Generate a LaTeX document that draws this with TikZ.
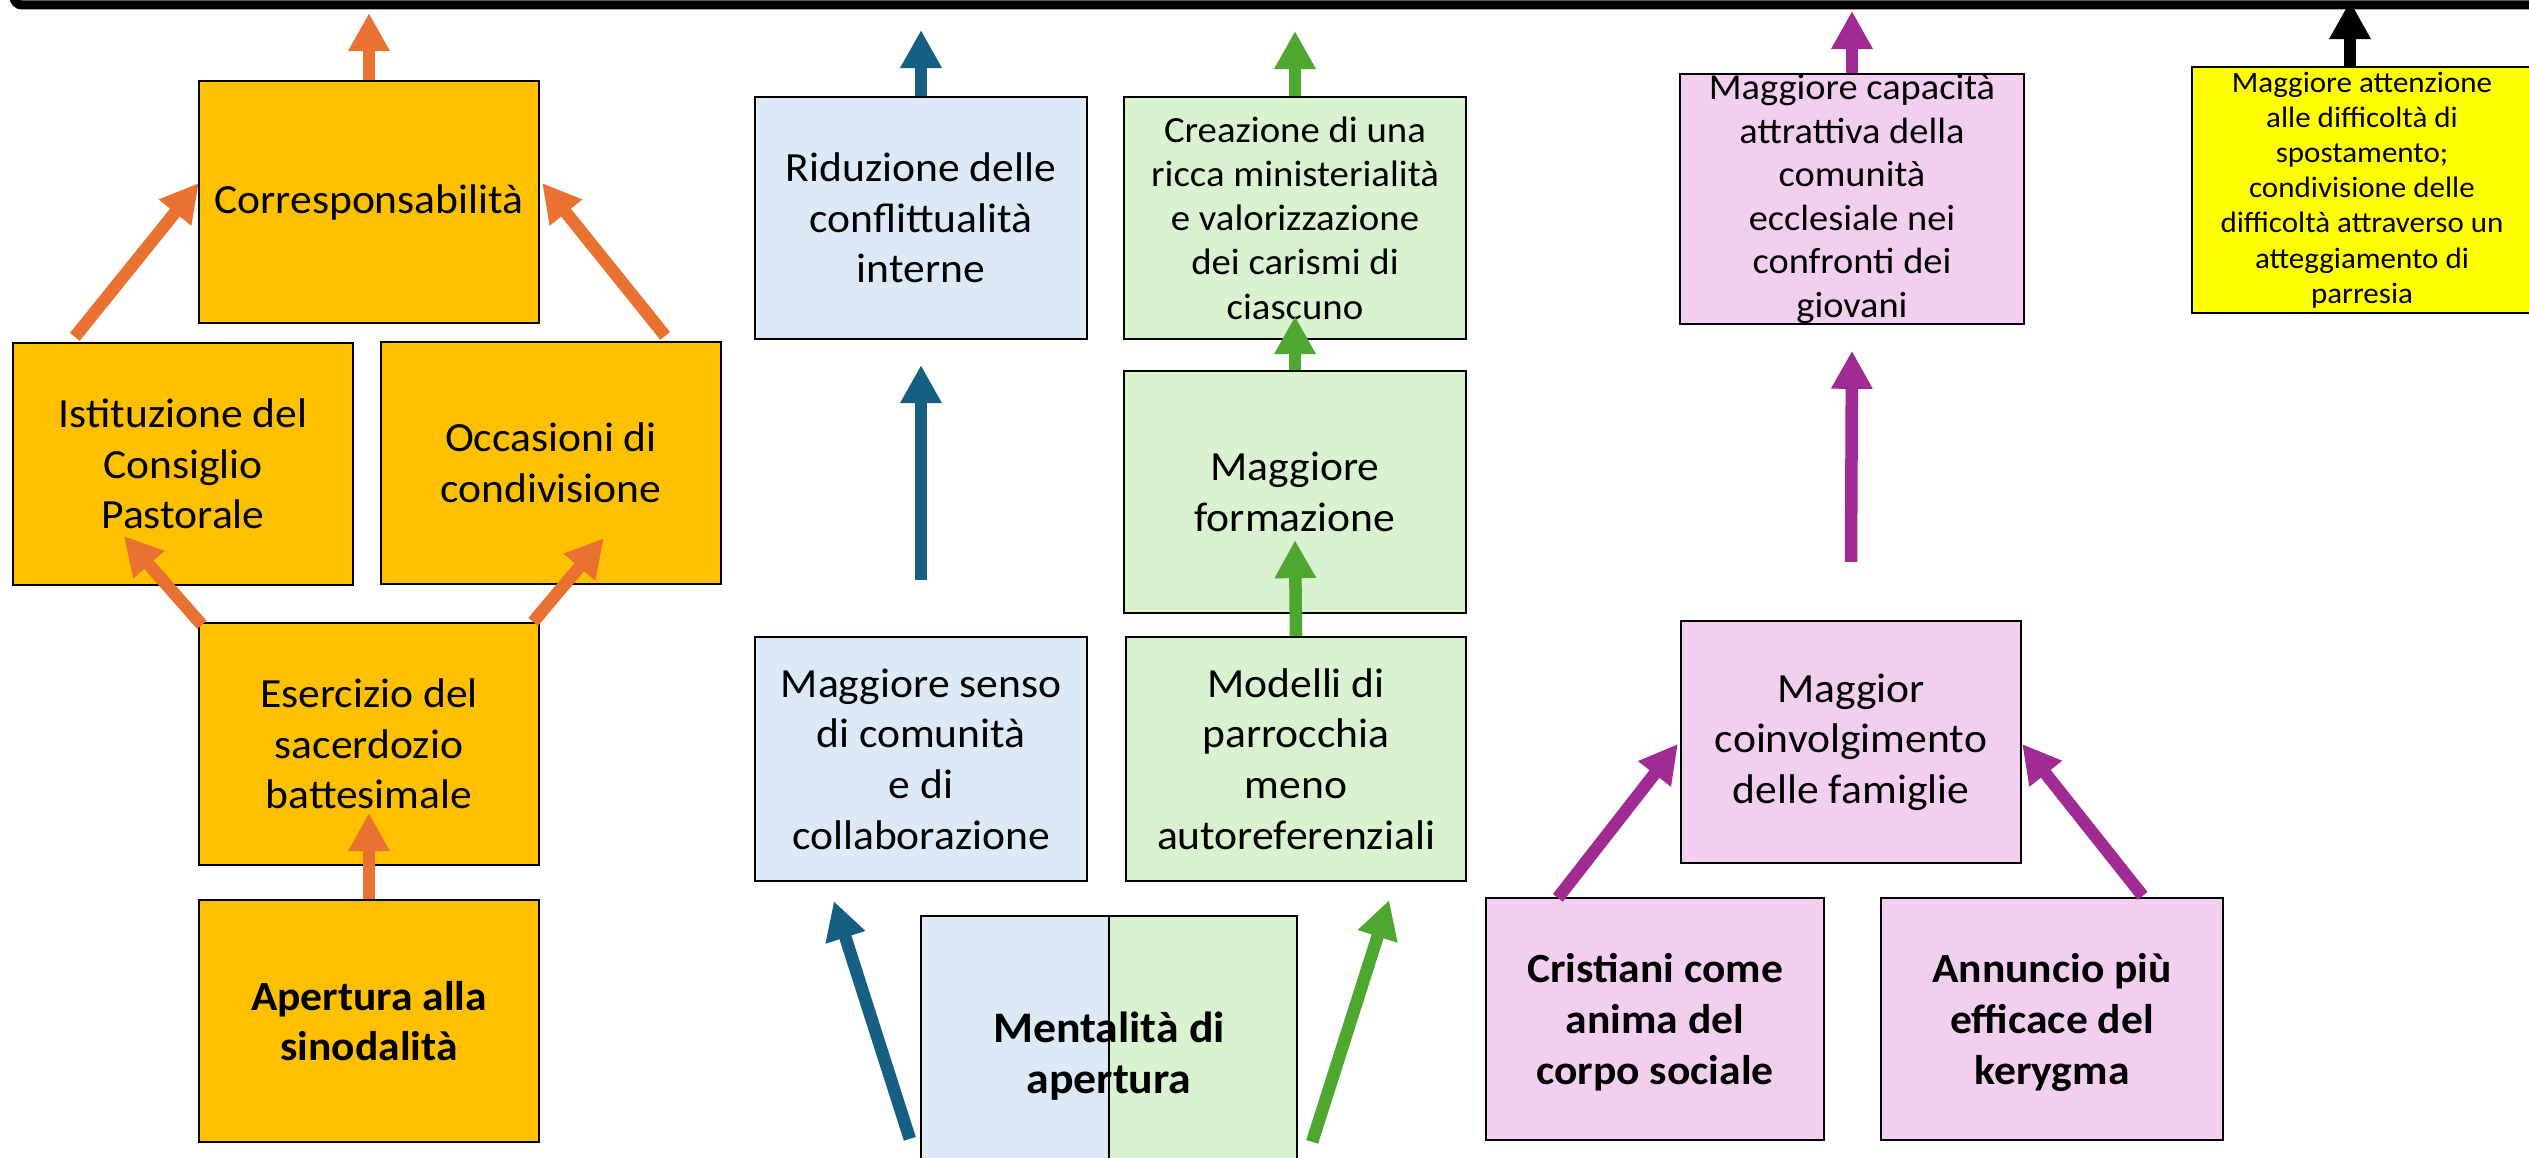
\documentclass[tikz,border=0pt]{standalone}
\usepackage{fontspec}
\setmainfont{Carlito}[FakeStretch=1.05]
\usetikzlibrary{arrows.meta,calc}

\definecolor{gold}{HTML}{FFC000}
\definecolor{oarrow}{HTML}{E97132}
\definecolor{lblue}{HTML}{DCEAF7}
\definecolor{barrow}{HTML}{156082}
\definecolor{lgreen}{HTML}{D9F2D0}
\definecolor{garrow}{HTML}{4EA72E}
\definecolor{lpink}{HTML}{F2CFEE}
\definecolor{parrow}{HTML}{A02B93}
\definecolor{yfill}{HTML}{FFFF00}

\tikzset{
  box/.style={draw=black, line width=0.6pt, inner sep=0pt, align=center,
    minimum width=3.4cm, minimum height=2.42cm, text=black,
    font=\fontsize{11.8}{14.4}\selectfont},
  obox/.style={box, fill=gold},
  bbox/.style={box, fill=lblue},
  gbox/.style={box, fill=lgreen},
  pbox/.style={box, fill=lpink},
  ybox/.style={box, fill=yfill, font=\fontsize{8.4}{10}\selectfont},
  boldtext/.style={font=\fontsize{11.8}{14.4}\selectfont\bfseries, text depth=0pt},
  arr/.style={line width=0.125cm, -{Triangle[length=0.38cm,width=0.39cm]}},
}

\begin{document}
\begin{tikzpicture}[x=0.01cm,y=-0.01cm]
\useasboundingbox (0,0) rectangle (2529,1158);
\begin{scope}
\clip (0,0) rectangle (2529,1158);
\fill[white] (0,0) rectangle (2529,1158);

% top bar
\draw[line width=0.09cm, rounded corners=0.08cm] (14,-40) -- (14,5) -- (2650,5);

% orange group
\node[obox] (corr) at (369,202) {Corresponsabilità};
\node[obox] (ist) at (183,464) {Istituzione del\\Consiglio\\Pastorale};
\node[obox] (occ) at (551,463) {Occasioni di\\condivisione};
\node[obox] (ese) at (369,744) {Esercizio del\\sacerdozio\\battesimale};
\node[obox, boldtext] (ape) at (369,1021) {Apertura alla\\sinodalità};

% blue / green group
\node[bbox, minimum width=3.32cm] (rid) at (921,218) {Riduzione delle\\conflittualità\\interne};
\node[bbox, minimum width=3.32cm, minimum height=2.44cm] (mse) at (921,759) {Maggiore senso\\di comunità\\e di\\collaborazione};
\node[gbox, minimum width=3.42cm, font=\fontsize{10.5}{12.6}\selectfont] (cre) at (1295,218) {Creazione di una\\ricca ministerialità\\e valorizzazione\\dei carismi di\\ciascuno};
\node[gbox, minimum width=3.42cm] (mfo) at (1295,492) {Maggiore\\formazione};
\node[gbox, minimum height=2.44cm] (mod) at (1296,759) {Modelli di\\parrocchia\\meno\\autoreferenziali};
\node[box, minimum width=3.76cm, minimum height=2.80cm,
  font=\fontsize{12.4}{14.4}\selectfont\bfseries,
  path picture={
    \fill[lblue] (path picture bounding box.north west) rectangle (path picture bounding box.south);
    \fill[lgreen] (path picture bounding box.north) rectangle (path picture bounding box.south east);
    \draw[line width=0.6pt] (path picture bounding box.north) -- (path picture bounding box.south);
  }] (men) at (1109,1056) {Mentalità di\\apertura};

% pink group
\node[pbox, minimum width=3.43cm, minimum height=2.44cm, font=\fontsize{10.4}{12.4}\selectfont] (cap) at (1852,199) {Maggiore capacità\\attrattiva della\\comunità\\ecclesiale nei\\confronti dei\\giovani};
\node[pbox] (coi) at (1851,742) {Maggior\\coinvolgimento\\delle famiglie};
\node[pbox, boldtext, minimum width=3.38cm] (cri) at (1655,1019) {Cristiani come\\anima del\\corpo sociale};
\node[pbox, boldtext, minimum width=3.41cm] (ann) at (2052,1019) {Annuncio più\\efficace del\\kerygma};

% yellow
\node[ybox, minimum height=2.45cm] (yel) at (2362,190) {Maggiore attenzione\\alle difficoltà di\\spostamento;\\condivisione delle\\difficoltà attraverso un\\atteggiamento di\\parresia};

% tip coordinates on the top bar
\coordinate (tA) at (369,13);
\coordinate (tB) at (921,30);
\coordinate (tG) at (1295,31);
\coordinate (tP) at (1852,11);
\coordinate (tK) at (2350,1);

% orange arrows
\draw[arr, oarrow] (corr.north) -- (tA);
\draw[arr, oarrow] ($(ist.north west)+(63,-5)$) -- ($(corr.west)+(1,-19)$);
\draw[arr, oarrow] ($(occ.north east)+(-57,-5)$) -- ($(corr.east)+(2,-19)$);
\draw[arr, oarrow] ($(ese.north west)+(4,3)$) -- ($(ist.south west)+(112,-50)$);
\draw[arr, oarrow] ($(ese.north east)+(-7,0)$) -- ($(occ.south west)+(224,-47)$);
\draw[arr, oarrow] (ape.north) -- ($(ese.south)+(0,-53)$);

% blue arrows
\draw[arr, barrow] (rid.north) -- (tB);
\draw[arr, barrow] ($(mse.north)+(0,-56)$) -- ($(rid.south)+(0,25)$);
\draw[arr, barrow] ($(men.north west)+(-10,224)$) -- ($(mse.south west)+(80,19)$);

% green arrows
\draw[arr, garrow] (cre.north) -- (tG);
\draw[arr, garrow] (mfo.north) -- ($(cre.south)+(0,-24)$);
\draw[arr, garrow] (mod.north) -- ($(mfo.south)+(0,-74)$);
\draw[arr, garrow] ($(men.north east)+(14,227)$) -- ($(mod.south east)+(-78,18)$);

% purple arrows
\draw[arr, parrow] (cap.north) -- (tP);
\draw[arr, parrow] ($(coi.north)+(0,-58)$) -- ($(cap.south)+(0,26)$);
\draw[arr, parrow] ($(cri.north west)+(73,1)$) -- ($(coi.west)+(-2,2)$);
\draw[arr, parrow] ($(ann.north east)+(-81,-1)$) -- ($(coi.east)+(0,2)$);

% black arrow
\draw[arr, black] ($(yel.north)+(-12,0)$) -- (tK);
\end{scope}
\end{tikzpicture}
\end{document}
